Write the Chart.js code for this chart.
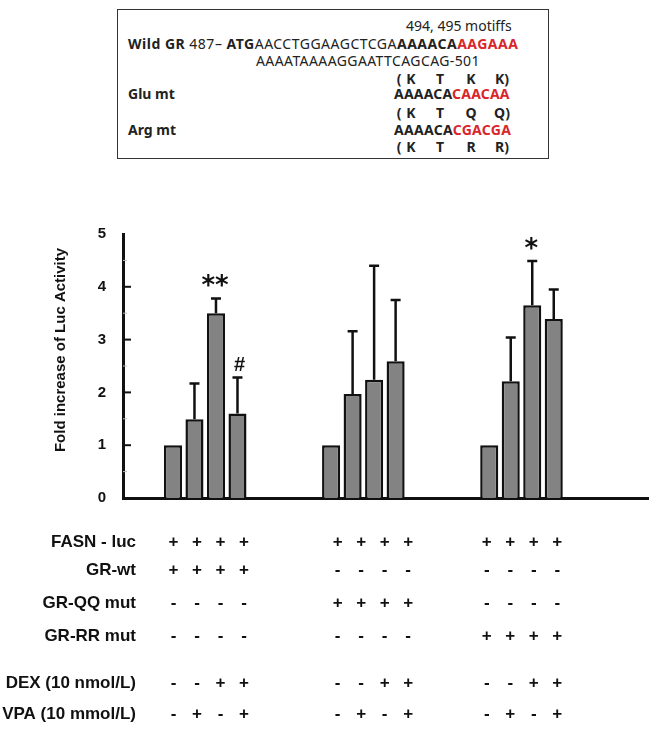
<!DOCTYPE html>
<html>
<head>
<meta charset="utf-8">
<script src="https://cdn.jsdelivr.net/npm/chart.js@4.4.1/dist/chart.umd.min.js"></script>
<style>
  body { margin: 0; background: #fff; width: 660px; height: 732px; position: relative; overflow: hidden; }
  #chart { position: absolute; left: 0; top: 0; }
  .box { position: absolute; left: 117px; top: 9px; width: 430px; height: 148px; border: 1.5px solid #333;
         font-family: "Noto Sans", sans-serif; font-size: 14px; color: #222; }
  .box .l { position: absolute; white-space: pre; line-height: 14px; }
  .box b { font-weight: 700; }
  .red { color: #d9262b; }
  .aa { font-weight: 700; position: absolute; line-height: 14px; transform: translateX(-50%); }
</style>
</head>
<body>
<div class="box">
  <span class="l" style="left:288px;top:9px">494, 495 motiffs</span>
  <span class="l" style="left:10px;top:27px;letter-spacing:0.5px"><b>Wild GR</b> 487– <b>ATG</b>AACCTGGAAGCTCGA<b>AAAACA</b><b class="red">AAGAAA</b></span>
  <span class="l" style="left:138px;top:44px;letter-spacing:0.4px">AAAATAAAAGGAATTCAGCAG-501</span>
  <span class="l" style="left:10px;top:77px"><b>Glu mt</b></span>
  <span class="l" style="left:276px;top:77px;letter-spacing:0.2px"><b>AAAACA<span class="red">CAACAA</span></b></span>
  <span class="l" style="left:10px;top:113px"><b>Arg mt</b></span>
  <span class="l" style="left:276px;top:113px;letter-spacing:0.3px"><b>AAAACA<span class="red">CGACGA</span></b></span>
  <span class="aa" style="left:281px;top:62px">(</span><span class="aa" style="left:293px;top:62px">K</span><span class="aa" style="left:322px;top:62px">T</span><span class="aa" style="left:353px;top:62px">K</span><span class="aa" style="left:384px;top:62px">K)</span>
  <span class="aa" style="left:281px;top:96px">(</span><span class="aa" style="left:293px;top:96px">K</span><span class="aa" style="left:322px;top:96px">T</span><span class="aa" style="left:353px;top:96px">Q</span><span class="aa" style="left:384px;top:96px">Q)</span>
  <span class="aa" style="left:281px;top:130px">(</span><span class="aa" style="left:293px;top:130px">K</span><span class="aa" style="left:322px;top:130px">T</span><span class="aa" style="left:353px;top:130px">R</span><span class="aa" style="left:384px;top:130px">R)</span>
</div>
<canvas id="chart" width="660" height="732"></canvas>
<script>
// groups on the x axis (GR construct), one bar per treatment
const groups = ['GR-wt', 'GR-QQ mut', 'GR-RR mut'];
const treatments = ['Control', 'VPA', 'DEX', 'DEX + VPA'];

// fold increase of luc activity, one value per group
const foldCtrl   = [1.00, 1.00, 1.00];
const foldVPA    = [1.49, 1.97, 2.21];
const foldDEX    = [3.50, 2.24, 3.65];
const foldDEXVPA = [1.60, 2.59, 3.39];

// upper error bars
const errCtrl   = [0, 0, 0];
const errVPA    = [0.68, 1.19, 0.83];
const errDEX    = [0.28, 2.16, 0.84];
const errDEXVPA = [0.68, 1.16, 0.56];

// significance marks above bars
const marksCtrl   = ['', '', ''];
const marksVPA    = ['', '', ''];
const marksDEX    = ['**', '', '*'];
const marksDEXVPA = ['#', '', ''];

const yTicks = [0, 1, 2, 3, 4, 5];

// condition table under the chart
const rowLabels = ['FASN - luc', 'GR-wt', 'GR-QQ mut', 'GR-RR mut', 'DEX (10 nmol/L)', 'VPA (10 mmol/L)'];
const rowSigns = [
  ['++++', '++++', '++++'],
  ['++++', '----', '----'],
  ['----', '++++', '----'],
  ['----', '----', '++++'],
  ['--++', '--++', '--++'],
  ['-+-+', '-+-+', '-+-+']
];

const folds = [foldCtrl, foldVPA, foldDEX, foldDEXVPA];
const errs = [errCtrl, errVPA, errDEX, errDEXVPA];
const marks = [marksCtrl, marksVPA, marksDEX, marksDEXVPA];

const rowY = [542, 570, 603, 636, 683, 714];
const signShift = [3.5, 9.5, 0.5];

const errorBars = {
  id: 'errorBars',
  afterDatasetsDraw(chart) {
    const ctx = chart.ctx;
    const y = chart.scales.y;
    ctx.save();
    ctx.strokeStyle = '#111';
    ctx.fillStyle = '#111';
    ctx.lineWidth = 2.5;
    chart.data.datasets.forEach((ds, i) => {
      const meta = chart.getDatasetMeta(i);
      meta.data.forEach((bar, j) => {
        const top = y.getPixelForValue(folds[i][j] + errs[i][j]);
        if (errs[i][j] > 0) {
          ctx.beginPath();
          ctx.moveTo(bar.x, bar.y);
          ctx.lineTo(bar.x, top);
          ctx.moveTo(bar.x - 5, top);
          ctx.lineTo(bar.x + 5, top);
          ctx.stroke();
        }
        const m = marks[i][j];
        if (m) {
          ctx.textAlign = 'center';
          ctx.textBaseline = 'alphabetic';
          if (m === '#') {
            ctx.font = 'bold 20px "Liberation Sans", Arial, sans-serif';
            ctx.fillText(m, bar.x + 2, top - 7);
          } else {
            ctx.font = 'bold 26px "DejaVu Sans", sans-serif';
            ctx.fillText(m, bar.x - 1, top - 4);
          }
        }
      });
    });
    // inward tick marks on the y axis
    const left = chart.chartArea.left;
    yTicks.forEach(v => {
      if (v === 0 || v === 5) return;
      const py = y.getPixelForValue(v);
      ctx.lineWidth = 2;
      ctx.beginPath();
      ctx.moveTo(left, py);
      ctx.lineTo(left + 8, py);
      ctx.stroke();
    });
    ctx.strokeStyle = '#bbb';
    ctx.lineWidth = 1;
    for (let v = 0.5; v < 5; v += 1) {
      const py = y.getPixelForValue(v);
      ctx.beginPath();
      ctx.moveTo(left, py);
      ctx.lineTo(left + 4, py);
      ctx.stroke();
    }
    ctx.restore();
  },
  afterDraw(chart) {
    const ctx = chart.ctx;
    const x = chart.scales.x;
    ctx.save();
    ctx.fillStyle = '#111';
    // y axis title
    ctx.save();
    ctx.translate(61, 350);
    ctx.rotate(-Math.PI / 2);
    ctx.font = 'bold 15px "Liberation Sans", Arial, sans-serif';
    ctx.textAlign = 'center';
    ctx.textBaseline = 'middle';
    ctx.fillText('Fold increase of Luc Activity', 0, 0);
    ctx.restore();
    // condition table
    ctx.textBaseline = 'middle';
    rowLabels.forEach((lab, r) => {
      ctx.font = 'bold 17px "Liberation Sans", Arial, sans-serif';
      ctx.textAlign = 'right';
      ctx.fillText(lab, 136, rowY[r]);
      ctx.font = 'bold 17px "Liberation Sans", Arial, sans-serif';
      ctx.textAlign = 'center';
      rowSigns[r].forEach((s, g) => {
        const cx = x.getPixelForValue(g + 1) + signShift[g];
        for (let k = 0; k < 4; k++) {
          ctx.fillText(s[k], cx + (k - 1.5) * 23.5, rowY[r]);
        }
      });
    });
    ctx.restore();
  }
};

const ctx = document.getElementById('chart').getContext('2d');
new Chart(ctx, {
  type: 'bar',
  data: {
    datasets: treatments.map((t, i) => ({
      label: t,
      data: folds[i].map((v, j) => ({ x: j + 1, y: v })),
      backgroundColor: '#838383',
      borderColor: '#111',
      borderWidth: 2.5,
      categoryPercentage: 0.544,
      barPercentage: 0.84
    }))
  },
  options: {
    responsive: false,
    animation: false,
    devicePixelRatio: 1,
    layout: { padding: { top: 234, right: 12, bottom: 234, left: 52 } },
    plugins: {
      legend: { display: false },
      tooltip: { enabled: false }
    },
    scales: {
      x: {
        type: 'linear',
        min: 0.48,
        max: 3.8,
        offset: false,
        afterBuildTicks: s => { s.ticks = groups.map((g, j) => ({ value: j + 1 })); },
        grid: { display: false, drawTicks: false },
        ticks: { display: false },
        border: { display: true, color: '#111', width: 3 },
        afterFit: s => { s.height = 0; }
      },
      y: {
        min: 0,
        max: 5,
        afterBuildTicks: s => { s.ticks = yTicks.map(v => ({ value: v })); },
        grid: { display: false, drawTicks: false },
        border: { display: true, color: '#111', width: 3 },
        ticks: {
          padding: 17,
          color: '#111',
          font: { family: '"Liberation Sans", Arial, sans-serif', size: 15, weight: 'bold' }
        },
        afterFit: s => { s.width = 71; }
      }
    }
  },
  plugins: [errorBars]
});
</script>
</body>
</html>
